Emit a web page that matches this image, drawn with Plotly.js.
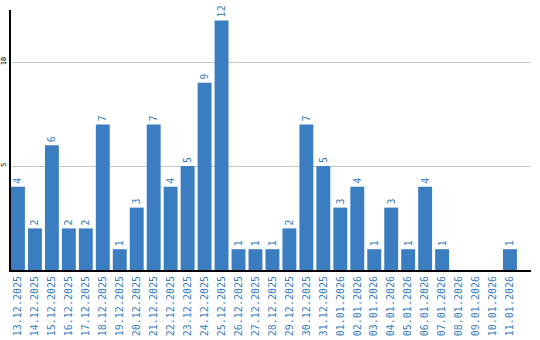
<!DOCTYPE html>
<html><head><meta charset="utf-8">
<script src="https://cdn.plot.ly/plotly-3.0.1.min.js"></script>
<style>html,body{margin:0;padding:0;background:#fff}#c{width:540px;height:340px}</style>
</head><body><div id="c"></div>
<script>
const dates = ["13.12.2025","14.12.2025","15.12.2025","16.12.2025","17.12.2025","18.12.2025","19.12.2025","20.12.2025","21.12.2025","22.12.2025","23.12.2025","24.12.2025","25.12.2025","26.12.2025","27.12.2025","28.12.2025","29.12.2025","30.12.2025","31.12.2025","01.01.2026","02.01.2026","03.01.2026","04.01.2026","05.01.2026","06.01.2026","07.01.2026","08.01.2026","09.01.2026","10.01.2026","11.01.2026"];
const counts = [4,2,6,2,2,7,1,3,7,4,5,9,12,1,1,1,2,7,5,3,4,1,3,1,4,1,0,0,0,1];
const labels = counts.map(v => v > 0 ? String(v) : "");
const yTicks = [5,10];

const blue = "#3a7dc1";
Plotly.newPlot("c", [{
  type: "bar",
  x: dates,
  y: counts,
  text: labels,
  textposition: "outside",
  textangle: -90,
  cliponaxis: false,
  textfont: {family: "DejaVu Sans Mono", size: 10, color: blue},
  marker: {color: blue},
  hoverinfo: "none"
}], {
  width: 540, height: 340,
  margin: {l: 11, r: 9, t: 10, b: 70},
  paper_bgcolor: "#fff", plot_bgcolor: "#fff",
  showlegend: false,
  bargap: 0.18,
  xaxis: {
    type: "category",
    range: [-0.41, 30.24],
    tickangle: -90,
    tickfont: {family: "DejaVu Sans Mono", size: 10, color: blue},
    showline: true, linecolor: "#000", linewidth: 2,
    showgrid: false, ticks: "", ticklen: 0, fixedrange: true
  },
  yaxis: {
    range: [0, 12.5],
    tickvals: yTicks,
    ticktext: yTicks.map(String),
    tickangle: -90,
    ticklabelstandoff: 0,
    tickfont: {family: "DejaVu Sans Mono", size: 7, color: "#000"},
    showline: true, linecolor: "#000", linewidth: 2,
    showgrid: true, gridcolor: "#c8c8c8", gridwidth: 1,
    zeroline: false, ticks: "", ticklen: 0
  }
}, {staticPlot: true});
</script></body></html>
